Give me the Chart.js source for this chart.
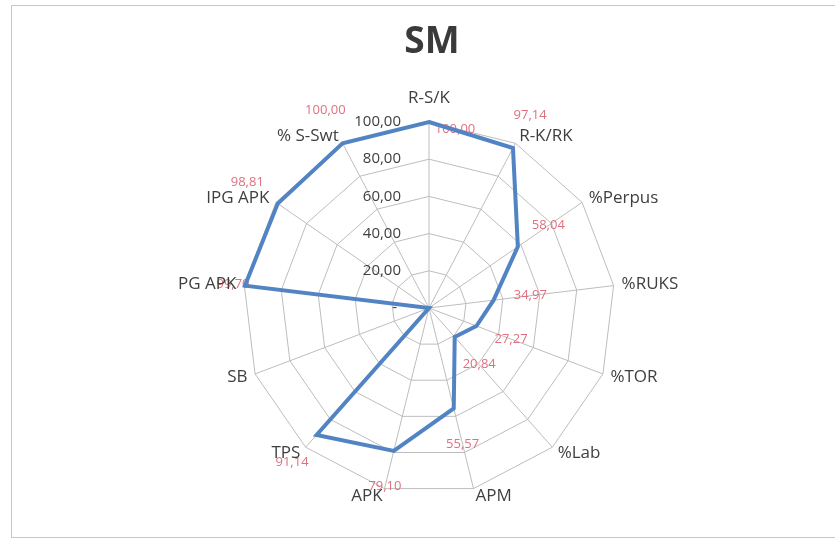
<!DOCTYPE html>
<html><head><meta charset="utf-8">
<script src="https://cdn.jsdelivr.net/npm/chart.js@4/dist/chart.umd.min.js"></script>
<style>
html,body{margin:0;padding:0;background:#fff;overflow:hidden;}
#frame{position:absolute;left:11px;top:5px;width:840px;height:531px;border:1px solid #c8c8c8;border-right:none;}
#c{position:absolute;left:0;top:0;}
</style></head><body>
<div id="frame"></div>
<canvas id="c" width="835" height="539"></canvas>
<script>
const chartTitle = 'SM';
const categories = ['R-S/K','R-K/RK','%Perpus','%RUKS','%TOR','%Lab','APM','APK','TPS','SB','PG APK','IPG APK','% S-Swt'];
const values = [100.00, 97.14, 58.04, 34.97, 27.27, 20.84, 55.57, 79.10, 91.14, 0, 99.70, 98.81, 100.00];
const tickValues = [0, 20, 40, 60, 80, 100];
const tickLabels = ['-', '20,00', '40,00', '60,00', '80,00', '100,00'];
const fmt = v => v.toFixed(2).replace('.', ',');

const FONT = '"Open Sans", "Liberation Sans", sans-serif';

const overlay = {
  id: 'overlay',
  beforeDatasetsDraw(chart) {
    const s = chart.scales.r, ctx = chart.ctx;
    ctx.save();
    // tick labels, right-aligned left of the vertical axis
    ctx.font = '15px ' + FONT;
    ctx.fillStyle = '#404040';
    ctx.textAlign = 'right';
    ctx.textBaseline = 'middle';
    tickValues.forEach((v, i) => {
      const d = s.getDistanceFromCenterForValue(v);
      ctx.fillText(tickLabels[i], s.xCenter - (v === 0 ? 32 : 28), s.yCenter - d);
    });
    // data labels
    ctx.font = '13px ' + FONT;
    ctx.fillStyle = '#e0707f';
    ctx.textAlign = 'center';
    values.forEach((v, i) => {
      if (v === 0) return;
      const d = s.getDistanceFromCenterForValue(v);
      let p;
      if (i === 0) {
        const q = s.getPointPosition(i, d);
        p = {x: q.x + 26, y: q.y + 7};
      } else if (categories[i] === 'PG APK') {
        p = s.getPointPosition(i, d + 12);
      } else {
        p = s.getPointPosition(i, d + 37);
      }
      ctx.fillText(fmt(v), p.x, p.y);
    });
    ctx.restore();
  },
  afterDraw(chart) {
    const s = chart.scales.r, ctx = chart.ctx;
    ctx.save();
    ctx.font = '17px ' + FONT;
    ctx.fillStyle = '#3f3f3f';
    ctx.textBaseline = 'middle';
    categories.forEach((c, i) => {
      const p = s.getPointPosition(i, s.drawingArea + 8);
      const deg = (i * 360 / categories.length);
      if (deg === 0 || deg === 180) {
        ctx.textAlign = 'center';
        ctx.textBaseline = 'bottom';
        ctx.fillText(c, p.x, p.y - 7);
        ctx.textBaseline = 'middle';
      } else {
        ctx.textAlign = deg < 180 ? 'left' : 'right';
        ctx.fillText(c, p.x, p.y);
      }
    });
    // title
    ctx.font = 'bold 37px ' + FONT;
    ctx.fillStyle = '#3a3a3a';
    ctx.textAlign = 'center';
    ctx.textBaseline = 'middle';
    ctx.fillText(chartTitle, 432, 42);
    ctx.restore();
  }
};

new Chart(document.getElementById('c'), {
  type: 'radar',
  data: {
    labels: categories,
    datasets: [{
      data: values,
      borderColor: '#5284c4',
      borderWidth: 4,
      backgroundColor: 'transparent',
      fill: false,
      pointRadius: 0,
      pointHoverRadius: 0,
      tension: 0
    }]
  },
  options: {
    responsive: false,
    devicePixelRatio: 1,
    animation: false,
    layout: {padding: {left: 243, right: 220, top: 122, bottom: 45}},
    plugins: {legend: {display: false}, tooltip: {enabled: false}, title: {display: false}},
    scales: {
      r: {
        min: 0, max: 100,
        ticks: {display: false, stepSize: 20},
        pointLabels: {display: false},
        grid: {color: '#bdbdbd', lineWidth: 1},
        angleLines: {color: '#bdbdbd', lineWidth: 1}
      }
    }
  },
  plugins: [overlay]
});
</script>
</body></html>
